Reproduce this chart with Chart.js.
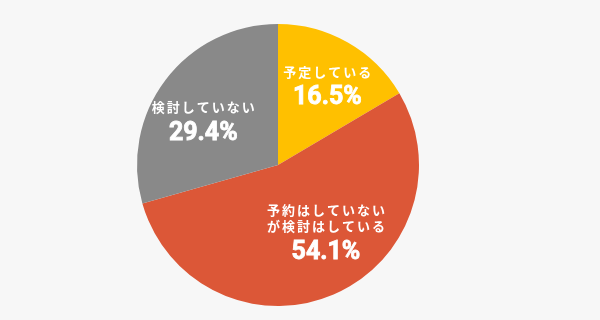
<!DOCTYPE html>
<html lang="ja">
<head>
<meta charset="utf-8">
<script src="https://cdn.jsdelivr.net/npm/chart.js@4"></script>
<style>
  html, body { margin: 0; padding: 0; background: #f7f7f7; }
  #wrap { width: 600px; height: 320px; position: relative; }
</style>
</head>
<body>
<div id="wrap"><canvas id="pie"></canvas></div>
<script>
// Data
const categories = [
  ["予定している"],
  ["予約はしていない", "が検討はしている"],
  ["検討していない"],
];
const shares = [16.5, 54.1, 29.4];
const sliceColors = ["#ffc000", "#dc5737", "#898989"];

// label centre offsets, as fractions of the radius (style only)
const labelOffsets = [[0.35, -0.57], [0.34, 0.47], [-0.53, -0.32]];

const FONT = "'Noto Sans CJK JP', 'Noto Sans', sans-serif";

const sliceLabels = {
  id: "sliceLabels",
  afterDatasetsDraw(chart) {
    const { ctx } = chart;
    const meta = chart.getDatasetMeta(0);
    ctx.save();
    ctx.fillStyle = "#ffffff";
    ctx.strokeStyle = "#ffffff";
    ctx.textAlign = "center";
    ctx.textBaseline = "middle";
    meta.data.forEach((arc, i) => {
      const r = arc.outerRadius;
      const cx = arc.x + labelOffsets[i][0] * r;
      const cy = arc.y + labelOffsets[i][1] * r;
      const lines = categories[i];
      const smallH = 16.5;
      const total = lines.length * smallH + 26;
      let y = cy - total / 2 + smallH / 2;
      ctx.font = "bold 13px " + FONT;
      ctx.letterSpacing = "2px";
      lines.forEach((t) => {
        ctx.fillText(t, cx + 1, y);
        y += smallH;
      });
      ctx.font = "bold 25px Roboto, " + FONT;
      ctx.letterSpacing = "0px";
      ctx.lineWidth = 0.8;
      const pct = shares[i].toFixed(1) + "%";
      ctx.fillText(pct, cx, y + 10);
      ctx.strokeText(pct, cx, y + 10);
    });
    ctx.restore();
  },
};

new Chart(document.getElementById("pie"), {
  type: "pie",
  data: {
    labels: categories.map((c) => c.join("")),
    datasets: [{
      data: shares,
      backgroundColor: sliceColors,
      borderWidth: 0,
      offset: 0,
      hoverOffset: 0,
    }],
  },
  options: {
    responsive: true,
    maintainAspectRatio: false,
    animation: false,
    layout: { padding: { left: 0, right: 44, top: 24, bottom: 14 } },
    plugins: {
      legend: { display: false },
      tooltip: { enabled: false },
    },
  },
  plugins: [sliceLabels],
});
</script>
</body>
</html>
